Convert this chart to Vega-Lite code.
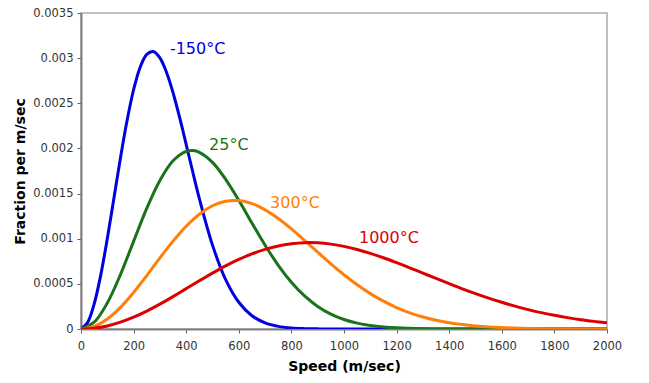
{
  "$schema": "https://vega.github.io/schema/vega-lite/v6.json",
  "width": 526,
  "height": 316,
  "autosize": "none",
  "padding": {"left": 81, "top": 13, "right": 42, "bottom": 54},
  "background": "white",
  "config": {
    "view": {"stroke": "#c0c0c0", "strokeWidth": 2},
    "axis": {
      "domainColor": "#808080",
      "domainWidth": 2,
      "tickColor": "#606060",
      "tickWidth": 1,
      "tickSize": 4,
      "grid": false,
      "labelFlush": false,
      "labelFont": "DejaVu Sans",
      "labelFontSize": 11.5,
      "labelColor": "#333333",
      "titleFont": "DejaVu Sans",
      "titleFontSize": 14,
      "titleFontWeight": "bold",
      "titleColor": "#000000"
    }
  },
  "datasets": {
    "curves": [
      {"speed": 0, "frac": 0, "series": "-150°C"},
      {"speed": 25, "frac": 0.0000711, "series": "-150°C"},
      {"speed": 50, "frac": 0.000277, "series": "-150°C"},
      {"speed": 75, "frac": 0.000597, "series": "-150°C"},
      {"speed": 100, "frac": 0.001000, "series": "-150°C"},
      {"speed": 125, "frac": 0.001446, "series": "-150°C"},
      {"speed": 150, "frac": 0.001895, "series": "-150°C"},
      {"speed": 175, "frac": 0.002307, "series": "-150°C"},
      {"speed": 200, "frac": 0.002650, "series": "-150°C"},
      {"speed": 225, "frac": 0.002899, "series": "-150°C"},
      {"speed": 250, "frac": 0.003041, "series": "-150°C"},
      {"speed": 275, "frac": 0.003073, "series": "-150°C"},
      {"speed": 300, "frac": 0.003002, "series": "-150°C"},
      {"speed": 325, "frac": 0.002844, "series": "-150°C"},
      {"speed": 350, "frac": 0.002617, "series": "-150°C"},
      {"speed": 375, "frac": 0.002343, "series": "-150°C"},
      {"speed": 400, "frac": 0.002043, "series": "-150°C"},
      {"speed": 425, "frac": 0.001739, "series": "-150°C"},
      {"speed": 450, "frac": 0.001444, "series": "-150°C"},
      {"speed": 500, "frac": 0.000929, "series": "-150°C"},
      {"speed": 550, "frac": 0.000547, "series": "-150°C"},
      {"speed": 600, "frac": 0.000296, "series": "-150°C"},
      {"speed": 650, "frac": 0.000147, "series": "-150°C"},
      {"speed": 700, "frac": 0.0000677, "series": "-150°C"},
      {"speed": 750, "frac": 0.0000288, "series": "-150°C"},
      {"speed": 800, "frac": 0.0000113, "series": "-150°C"},
      {"speed": 850, "frac": 0.0000041, "series": "-150°C"},
      {"speed": 900, "frac": 0.0000014, "series": "-150°C"},
      {"speed": 1000, "frac": 0, "series": "-150°C"},
      {"speed": 1500, "frac": 0, "series": "-150°C"},
      {"speed": 2000, "frac": 0, "series": "-150°C"},

      {"speed": 0, "frac": 0, "series": "25°C"},
      {"speed": 50, "frac": 0.0000751, "series": "25°C"},
      {"speed": 100, "frac": 0.000288, "series": "25°C"},
      {"speed": 150, "frac": 0.000603, "series": "25°C"},
      {"speed": 200, "frac": 0.000971, "series": "25°C"},
      {"speed": 250, "frac": 0.001336, "series": "25°C"},
      {"speed": 300, "frac": 0.001646, "series": "25°C"},
      {"speed": 350, "frac": 0.001863, "series": "25°C"},
      {"speed": 400, "frac": 0.001968, "series": "25°C"},
      {"speed": 425, "frac": 0.001976, "series": "25°C"},
      {"speed": 450, "frac": 0.001957, "series": "25°C"},
      {"speed": 500, "frac": 0.001846, "series": "25°C"},
      {"speed": 550, "frac": 0.001658, "series": "25°C"},
      {"speed": 600, "frac": 0.001425, "series": "25°C"},
      {"speed": 650, "frac": 0.001173, "series": "25°C"},
      {"speed": 700, "frac": 0.000928, "series": "25°C"},
      {"speed": 750, "frac": 0.000706, "series": "25°C"},
      {"speed": 800, "frac": 0.000518, "series": "25°C"},
      {"speed": 850, "frac": 0.000366, "series": "25°C"},
      {"speed": 900, "frac": 0.000250, "series": "25°C"},
      {"speed": 950, "frac": 0.000165, "series": "25°C"},
      {"speed": 1000, "frac": 0.000105, "series": "25°C"},
      {"speed": 1050, "frac": 0.0000648, "series": "25°C"},
      {"speed": 1100, "frac": 0.0000387, "series": "25°C"},
      {"speed": 1150, "frac": 0.0000224, "series": "25°C"},
      {"speed": 1200, "frac": 0.0000125, "series": "25°C"},
      {"speed": 1300, "frac": 0.0000036, "series": "25°C"},
      {"speed": 1400, "frac": 0.0000009, "series": "25°C"},
      {"speed": 1500, "frac": 0, "series": "25°C"},
      {"speed": 2000, "frac": 0, "series": "25°C"},

      {"speed": 0, "frac": 0, "series": "300°C"},
      {"speed": 50, "frac": 0.0000283, "series": "300°C"},
      {"speed": 100, "frac": 0.000111, "series": "300°C"},
      {"speed": 150, "frac": 0.000240, "series": "300°C"},
      {"speed": 200, "frac": 0.000405, "series": "300°C"},
      {"speed": 250, "frac": 0.000592, "series": "300°C"},
      {"speed": 300, "frac": 0.000787, "series": "300°C"},
      {"speed": 350, "frac": 0.000973, "series": "300°C"},
      {"speed": 400, "frac": 0.001138, "series": "300°C"},
      {"speed": 450, "frac": 0.001271, "series": "300°C"},
      {"speed": 500, "frac": 0.001365, "series": "300°C"},
      {"speed": 550, "frac": 0.001415, "series": "300°C"},
      {"speed": 600, "frac": 0.001422, "series": "300°C"},
      {"speed": 650, "frac": 0.001388, "series": "300°C"},
      {"speed": 700, "frac": 0.001320, "series": "300°C"},
      {"speed": 750, "frac": 0.001224, "series": "300°C"},
      {"speed": 800, "frac": 0.001109, "series": "300°C"},
      {"speed": 850, "frac": 0.000982, "series": "300°C"},
      {"speed": 900, "frac": 0.000851, "series": "300°C"},
      {"speed": 950, "frac": 0.000722, "series": "300°C"},
      {"speed": 1000, "frac": 0.000601, "series": "300°C"},
      {"speed": 1050, "frac": 0.000490, "series": "300°C"},
      {"speed": 1100, "frac": 0.000392, "series": "300°C"},
      {"speed": 1150, "frac": 0.000308, "series": "300°C"},
      {"speed": 1200, "frac": 0.000237, "series": "300°C"},
      {"speed": 1250, "frac": 0.000179, "series": "300°C"},
      {"speed": 1300, "frac": 0.000133, "series": "300°C"},
      {"speed": 1350, "frac": 0.0000973, "series": "300°C"},
      {"speed": 1400, "frac": 0.0000699, "series": "300°C"},
      {"speed": 1450, "frac": 0.0000493, "series": "300°C"},
      {"speed": 1500, "frac": 0.0000342, "series": "300°C"},
      {"speed": 1600, "frac": 0.0000156, "series": "300°C"},
      {"speed": 1700, "frac": 0.0000067, "series": "300°C"},
      {"speed": 1800, "frac": 0.0000027, "series": "300°C"},
      {"speed": 1900, "frac": 0.000001, "series": "300°C"},
      {"speed": 2000, "frac": 0.0000004, "series": "300°C"},

      {"speed": 0, "frac": 0, "series": "1000°C"},
      {"speed": 50, "frac": 0.0000086, "series": "1000°C"},
      {"speed": 100, "frac": 0.0000341, "series": "1000°C"},
      {"speed": 150, "frac": 0.0000754, "series": "1000°C"},
      {"speed": 200, "frac": 0.000131, "series": "1000°C"},
      {"speed": 250, "frac": 0.000199, "series": "1000°C"},
      {"speed": 300, "frac": 0.000276, "series": "1000°C"},
      {"speed": 350, "frac": 0.000359, "series": "1000°C"},
      {"speed": 400, "frac": 0.000447, "series": "1000°C"},
      {"speed": 450, "frac": 0.000534, "series": "1000°C"},
      {"speed": 500, "frac": 0.000619, "series": "1000°C"},
      {"speed": 550, "frac": 0.000699, "series": "1000°C"},
      {"speed": 600, "frac": 0.000770, "series": "1000°C"},
      {"speed": 650, "frac": 0.000832, "series": "1000°C"},
      {"speed": 700, "frac": 0.000882, "series": "1000°C"},
      {"speed": 750, "frac": 0.000920, "series": "1000°C"},
      {"speed": 800, "frac": 0.000944, "series": "1000°C"},
      {"speed": 850, "frac": 0.000956, "series": "1000°C"},
      {"speed": 900, "frac": 0.000954, "series": "1000°C"},
      {"speed": 950, "frac": 0.000940, "series": "1000°C"},
      {"speed": 1000, "frac": 0.000915, "series": "1000°C"},
      {"speed": 1050, "frac": 0.000881, "series": "1000°C"},
      {"speed": 1100, "frac": 0.000838, "series": "1000°C"},
      {"speed": 1150, "frac": 0.000789, "series": "1000°C"},
      {"speed": 1200, "frac": 0.000735, "series": "1000°C"},
      {"speed": 1250, "frac": 0.000678, "series": "1000°C"},
      {"speed": 1300, "frac": 0.000619, "series": "1000°C"},
      {"speed": 1350, "frac": 0.000560, "series": "1000°C"},
      {"speed": 1400, "frac": 0.000502, "series": "1000°C"},
      {"speed": 1450, "frac": 0.000445, "series": "1000°C"},
      {"speed": 1500, "frac": 0.000392, "series": "1000°C"},
      {"speed": 1550, "frac": 0.000342, "series": "1000°C"},
      {"speed": 1600, "frac": 0.000296, "series": "1000°C"},
      {"speed": 1650, "frac": 0.000253, "series": "1000°C"},
      {"speed": 1700, "frac": 0.000215, "series": "1000°C"},
      {"speed": 1750, "frac": 0.000181, "series": "1000°C"},
      {"speed": 1800, "frac": 0.000152, "series": "1000°C"},
      {"speed": 1850, "frac": 0.000126, "series": "1000°C"},
      {"speed": 1900, "frac": 0.000103, "series": "1000°C"},
      {"speed": 1950, "frac": 0.0000844, "series": "1000°C"},
      {"speed": 2000, "frac": 0.0000682, "series": "1000°C"}
    ],
    "labels": [
      {"speed": 338, "frac": 0.0031, "series": "-150°C"},
      {"speed": 487, "frac": 0.00204, "series": "25°C"},
      {"speed": 719, "frac": 0.0014, "series": "300°C"},
      {"speed": 1057, "frac": 0.00101, "series": "1000°C"}
    ]
  },
  "layer": [
    {
      "data": {"name": "curves"},
      "mark": {"type": "line", "interpolate": "catmull-rom", "strokeWidth": 3, "clip": true},
      "encoding": {
        "x": {
          "field": "speed", "type": "quantitative",
          "scale": {"domain": [0, 2000], "nice": false},
          "axis": {"title": "Speed (m/sec)", "values": [0,200,400,600,800,1000,1200,1400,1600,1800,2000], "format": "d", "labelPadding": 7, "titlePadding": 8}
        },
        "y": {
          "field": "frac", "type": "quantitative",
          "scale": {"domain": [0, 0.0035], "nice": false},
          "axis": {"title": "Fraction per m/sec", "values": [0,0.0005,0.001,0.0015,0.002,0.0025,0.003,0.0035], "format": "~g", "labelPadding": 4, "titlePadding": 5}
        },
        "color": {
          "field": "series", "type": "nominal",
          "scale": {"domain": ["-150°C","25°C","300°C","1000°C"], "range": ["#0000e0","#1a731a","#ff7f0a","#dd0000"]},
          "legend": null
        },
        "order": {"field": "speed"}
      }
    },
    {
      "data": {"name": "labels"},
      "mark": {"type": "text", "align": "left", "baseline": "middle", "font": "DejaVu Sans", "fontSize": 16},
      "encoding": {
        "x": {"field": "speed", "type": "quantitative"},
        "y": {"field": "frac", "type": "quantitative"},
        "text": {"field": "series"},
        "color": {"field": "series", "type": "nominal", "legend": null}
      }
    }
  ]
}
